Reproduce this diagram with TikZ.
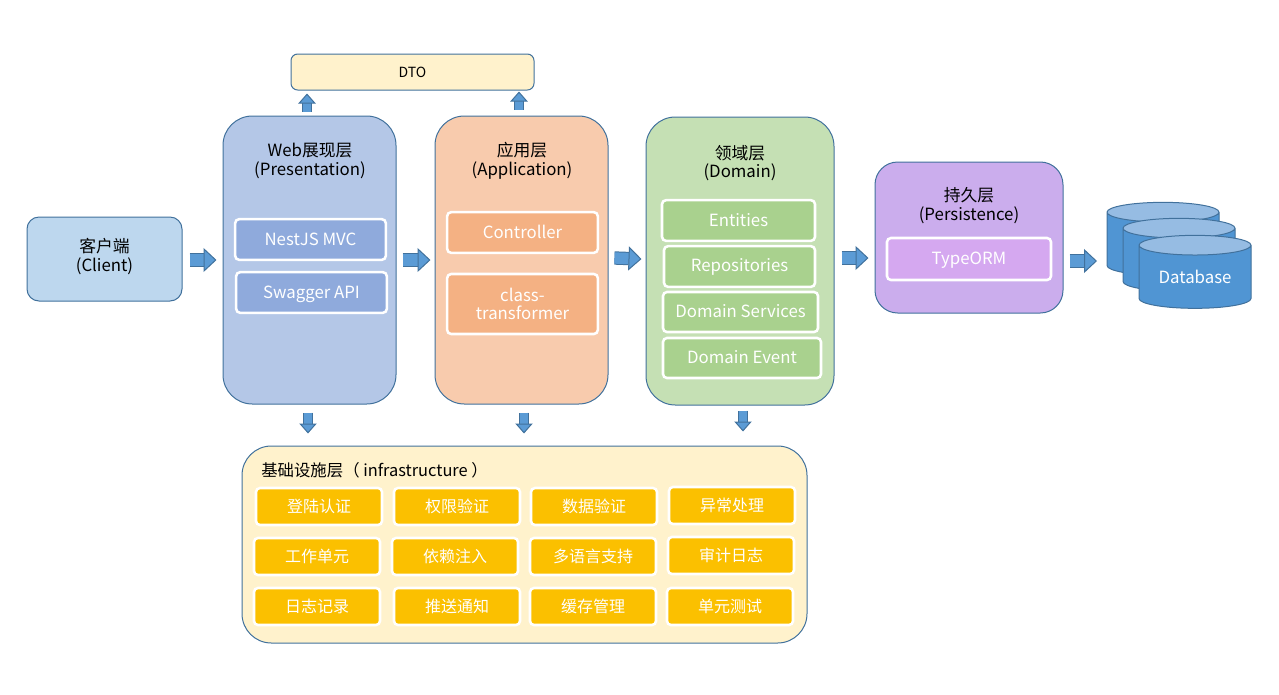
\documentclass[tikz,border=0pt]{standalone}
\usepackage{fontspec}
\setmainfont{Noto Sans CJK SC}
\usetikzlibrary{arrows.meta,shapes.geometric}
\definecolor{edgeblue}{HTML}{41719C}
\definecolor{arrowblue}{HTML}{5B9BD5}
\definecolor{clientfill}{HTML}{BDD7EE}
\definecolor{webfill}{HTML}{B4C7E7}
\definecolor{webcell}{HTML}{8FAADC}
\definecolor{appfill}{HTML}{F8CBAD}
\definecolor{appcell}{HTML}{F4B183}
\definecolor{domainfill}{HTML}{C5E0B4}
\definecolor{domaincell}{HTML}{A9D18E}
\definecolor{persistfill}{HTML}{CBADED}
\definecolor{persistcell}{HTML}{D5A8F0}
\definecolor{creamfill}{HTML}{FFF2CC}
\definecolor{infracell}{HTML}{FBC000}
\definecolor{dbbody}{HTML}{5095D3}
\definecolor{dbtop}{HTML}{96BCE3}
\tikzstyle{layerbox}=[rectangle,draw=edgeblue,line width=.75pt,
                      inner sep=0pt,font=\fontsize{12.6}{14}\selectfont]
\tikzstyle{titletext}=[align=center,inner sep=0pt,
                       font=\fontsize{12.6}{14}\selectfont]
\tikzstyle{cellbox}=[rectangle,draw=white,line width=1.9pt,rounded corners=3pt,
                     text=white,align=center,inner sep=0pt,
                     font=\fontsize{12.6}{14}\selectfont]
\tikzstyle{infrabox}=[cellbox,fill=infracell,font=\fontsize{12}{14}\selectfont,
                      minimum width=94.5pt,minimum height=27.75pt]
\tikzstyle{dbshape}=[cylinder,shape border rotate=90,aspect=.27,draw=edgeblue,
                     line width=.75pt,cylinder uses custom fill,
                     cylinder body fill=dbbody,cylinder end fill=dbtop,
                     minimum width=84pt,minimum height=54.75pt,inner sep=0pt,
                     text=white,font=\fontsize{12.6}{14}\selectfont]
\tikzstyle{harrow}=[double=arrowblue,draw=edgeblue,line width=.75pt,
                    double distance=8.5pt,
                    -{Triangle[length=9.75pt,width=18pt,fill=arrowblue,
                               color=edgeblue,line width=.75pt]}]
\tikzstyle{varrow}=[double=arrowblue,draw=edgeblue,line width=.75pt,
                    double distance=5.5pt,
                    -{Triangle[length=7.5pt,width=13pt,fill=arrowblue,
                               color=edgeblue,line width=.75pt]}]

\begin{document}
\begin{tikzpicture}[x=.75pt,y=-.75pt]
    \useasboundingbox (0,0) rectangle (1279,694);
    % layers
    \node (client) at (104.5,259) [layerbox,fill=clientfill,rounded corners=9pt,
        minimum width=116.25pt,minimum height=63pt,align=center,
        text depth=6pt]{客户端\\(Client)};
    \node (web) at (309.5,260) [layerbox,fill=webfill,rounded corners=22pt,
        minimum width=129.75pt,minimum height=216pt]{};
    \node (app) at (521.5,260) [layerbox,fill=appfill,rounded corners=22pt,
        minimum width=129.75pt,minimum height=216pt]{};
    \node (domain) at (740,261) [layerbox,fill=domainfill,rounded corners=22pt,
        minimum width=141pt,minimum height=216pt]{};
    \node (persist) at (969,237.5) [layerbox,fill=persistfill,rounded corners=17pt,
        minimum width=141pt,minimum height=113.25pt]{};
    \node (dto) at (412.5,72) [layerbox,fill=creamfill,rounded corners=5pt,
        minimum width=182.25pt,minimum height=27pt,
        font=\fontsize{10.5}{12}\selectfont]{DTO};
    \node (infra) at (524.5,544.5) [layerbox,fill=creamfill,rounded corners=22pt,
        minimum width=423.75pt,minimum height=147.75pt]{};
    % titles
    \node (webtitle) at (310,161) [titletext]{Web展现层\\(Presentation)};
    \node (apptitle) at (522,161) [titletext]{应用层\\(Application)};
    \node (domaintitle) at (740,163) [titletext]{领域层\\(Domain)};
    \node (persisttitle) at (969,205.5) [titletext]{持久层\\(Persistence)};
    \node (infratitle) at (261,470) [titletext,anchor=west,
        font=\fontsize{12.3}{14}\selectfont]{基础设施层（ infrastructure ）};
    % cells
    \node (nestmvc) at (310.5,239.5) [cellbox,fill=webcell,
        minimum width=113pt,minimum height=30.5pt]{NestJS MVC};
    \node (swagger) at (311.5,292.5) [cellbox,fill=webcell,text depth=0pt,
        minimum width=113pt,minimum height=30.5pt]{Swagger API};
    \node (controller) at (522.5,232.5) [cellbox,fill=appcell,text depth=1.5pt,
        minimum width=113pt,minimum height=30.5pt]{Controller};
    \node (transformer) at (522.5,304) [cellbox,fill=appcell,
        minimum width=113pt,minimum height=45pt]{class-\\transformer};
    \node (entities) at (738.5,220.5) [cellbox,fill=domaincell,
        minimum width=114.75pt,minimum height=30.5pt]{Entities};
    \node (repos) at (739.5,266.5) [cellbox,fill=domaincell,text depth=2.5pt,
        minimum width=113.25pt,minimum height=30.5pt]{Repositories};
    \node (services) at (740.5,312) [cellbox,fill=domaincell,text depth=1.5pt,
        minimum width=116.25pt,minimum height=30pt]{Domain Services};
    \node (event) at (742,358) [cellbox,fill=domaincell,text depth=1.5pt,
        minimum width=118.5pt,minimum height=30pt]{Domain Event};
    \node (typeorm) at (969,259) [cellbox,fill=persistcell,text depth=1.5pt,
        minimum width=123pt,minimum height=31.5pt]{TypeORM};
    % infrastructure cells
    \node (login) at (319,506.5) [infrabox]{登陆认证};
    \node (perm) at (457,506.5) [infrabox]{权限验证};
    \node (valid) at (594,506.5) [infrabox]{数据验证};
    \node (except) at (732,505.5) [infrabox]{异常处理};
    \node (uow) at (317,556.5) [infrabox]{工作单元};
    \node (inject) at (455,556.5) [infrabox]{依赖注入};
    \node (locale) at (593,556.5) [infrabox]{多语言支持};
    \node (audit) at (731,555.5) [infrabox]{审计日志};
    \node (logging) at (317,606.5) [infrabox]{日志记录};
    \node (push) at (457,606.5) [infrabox]{推送通知};
    \node (cache) at (593,606.5) [infrabox]{缓存管理};
    \node (unittest) at (730,606.5) [infrabox]{单元测试};
    % database
    \node (db1) at (1163,244) [dbshape]{\phantom{Database}};
    \node (db2) at (1179,260) [dbshape]{\phantom{Database}};
    \node (db3) at (1195,277) [dbshape]{Database};
    % arrows
    \draw[harrow] ([shift={(7,1)}]client.east) -- ([shift={(-6,0)}]web.west);
    \draw[harrow] ([shift={(6,0)}]web.east) -- ([shift={(-4,0)}]app.west);
    \draw[harrow] ([shift={(6,-2)}]app.east) -- ([shift={(-4,-2)}]domain.west);
    \draw[harrow] ([shift={(7,-3)}]domain.east) -- ([shift={(-6,20.5)}]persist.west);
    \draw[harrow] ([shift={(6,23.5)}]persist.east) -- ([shift={(-66,17)}]db1.center);
    \draw[varrow] ([shift={(-2.5,-4)}]web.north) -- ([shift={(-105.5,3)}]dto.south);
    \draw[varrow] ([shift={(-2.5,-6)}]app.north) -- ([shift={(106.5,1)}]dto.south);
    \draw[varrow] ([shift={(-1.5,8)}]web.south) -- ([shift={(-216.5,-12)}]infra.north);
    \draw[varrow] ([shift={(2.5,8)}]app.south) -- ([shift={(-.5,-12)}]infra.north);
    \draw[varrow] ([shift={(3,5)}]domain.south) -- ([shift={(218.5,-14)}]infra.north);
\end{tikzpicture}
\end{document}
